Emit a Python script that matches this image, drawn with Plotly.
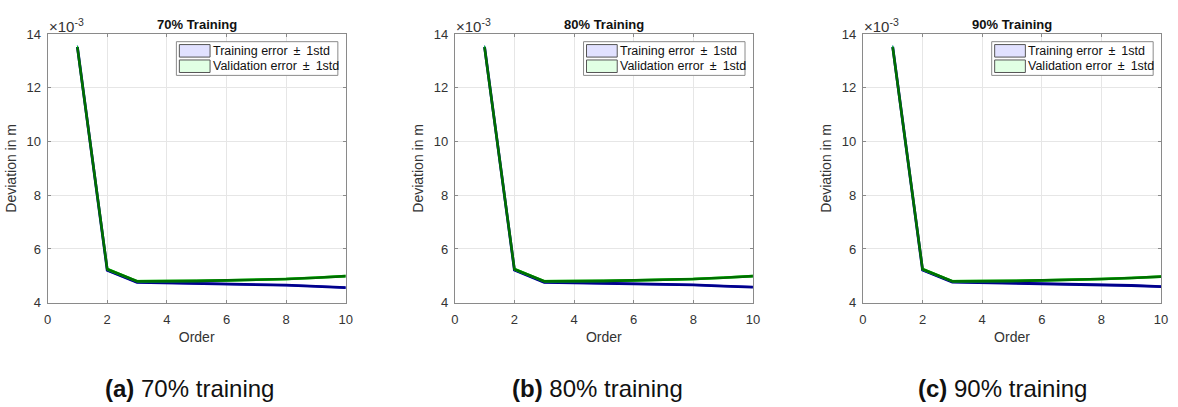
import plotly.graph_objects as go

# Polynomial order on the x axis
orders = [1, 2, 3, 4, 5, 6, 7, 8, 9, 10]

# Deviation values in units of 1e-3 m (axis carries the x10^-3 multiplier)
train_70 = [13.52, 5.21, 4.76, 4.74, 4.72, 4.70, 4.68, 4.65, 4.61, 4.56]
val_70 = [13.50, 5.25, 4.80, 4.80, 4.81, 4.83, 4.85, 4.88, 4.93, 4.99]
train_80 = [13.52, 5.22, 4.76, 4.74, 4.73, 4.71, 4.69, 4.66, 4.62, 4.58]
val_80 = [13.50, 5.25, 4.80, 4.80, 4.81, 4.83, 4.85, 4.88, 4.93, 4.99]
train_90 = [13.52, 5.22, 4.77, 4.75, 4.74, 4.72, 4.70, 4.67, 4.64, 4.60]
val_90 = [13.50, 5.25, 4.80, 4.80, 4.81, 4.83, 4.85, 4.88, 4.92, 4.97]

# One standard deviation of the error (same units)
train_std_70 = [0.05, 0.03, 0.02, 0.02, 0.02, 0.02, 0.02, 0.02, 0.02, 0.02]
val_std_70 = [0.06, 0.04, 0.03, 0.03, 0.03, 0.03, 0.03, 0.03, 0.03, 0.03]
train_std_80 = [0.05, 0.03, 0.02, 0.02, 0.02, 0.02, 0.02, 0.02, 0.02, 0.02]
val_std_80 = [0.06, 0.04, 0.03, 0.03, 0.03, 0.03, 0.03, 0.03, 0.03, 0.03]
train_std_90 = [0.05, 0.03, 0.02, 0.02, 0.02, 0.02, 0.02, 0.02, 0.02, 0.02]
val_std_90 = [0.06, 0.04, 0.03, 0.03, 0.03, 0.03, 0.03, 0.03, 0.03, 0.03]

panel_titles = ["70% Training", "80% Training", "90% Training"]
captions = [("(a)", "70% training"), ("(b)", "80% training"), ("(c)", "90% training")]
legend_labels = ["Training error \u2009\u00b1\u2009 1std", "Validation error \u2009\u00b1\u2009 1std"]
x_title = "Order"
y_title = "Deviation in m"

panels = [
    (train_70, train_std_70, val_70, val_std_70),
    (train_80, train_std_80, val_80, val_std_80),
    (train_90, train_std_90, val_90, val_std_90),
]

W, H = 1178, 407
FONT = "Liberation Sans, Arial, Helvetica, sans-serif"
AX_COL = "#8a8a8a"
TXT_COL = "#333333"


def xp(px):
    return px / W


def yp(py):
    return 1 - py / H


# axis boxes in pixels: (left, right), shared top/bottom
ax_x = [(44, 345), (455, 756), (867, 1168)]
ax_top, ax_bot = 28, 307

styles = [
    # (edge colour, fill colour, mean colour, mean width)
    ("rgb(40,40,255)", "rgba(215,215,255,0.8)", "rgb(0,0,140)", 2.8),
    ("rgb(0,235,0)", "rgba(220,255,220,0.8)", "rgb(0,110,0)", 2.6),
]

fig = go.Figure()
shapes = []
annotations = []

for i, (tr, trs, va, vas) in enumerate(panels):
    xa = "x" if i == 0 else f"x{i + 1}"
    ya = "y" if i == 0 else f"y{i + 1}"
    for (mean, std), (edge, fill, mcol, mw) in zip([(tr, trs), (va, vas)], styles):
        lower = [m - s for m, s in zip(mean, std)]
        upper = [m + s for m, s in zip(mean, std)]
        fig.add_trace(go.Scatter(x=orders, y=lower, mode="lines", xaxis=xa, yaxis=ya,
                                 line=dict(color=edge, width=1), showlegend=False,
                                 hoverinfo="skip"))
        fig.add_trace(go.Scatter(x=orders, y=upper, mode="lines", xaxis=xa, yaxis=ya,
                                 line=dict(color=edge, width=1), fill="tonexty",
                                 fillcolor=fill, showlegend=False, hoverinfo="skip"))
        fig.add_trace(go.Scatter(x=orders, y=mean, mode="lines", xaxis=xa, yaxis=ya,
                                 line=dict(color=mcol, width=mw), showlegend=False))

    l, r = ax_x[i]
    ax_common = dict(
        showline=True, linecolor=AX_COL, linewidth=1, mirror="ticks",
        ticks="inside", ticklen=3, tickcolor=AX_COL,
        showgrid=True, gridcolor="#e6e6e6", gridwidth=1, zeroline=False,
        tickfont=dict(family=FONT, size=13, color=TXT_COL),
    )
    fig.layout[f"xaxis{'' if i == 0 else i + 1}"] = dict(
        ax_common, domain=[xp(l), xp(r)], anchor=ya, range=[0, 10], dtick=2,
        ticklabelstandoff=5,
        title=dict(text=x_title, font=dict(family=FONT, size=14, color=TXT_COL), standoff=5),
    )
    fig.layout[f"yaxis{'' if i == 0 else i + 1}"] = dict(
        ax_common, domain=[yp(ax_bot), yp(ax_top)], anchor=xa, range=[4, 14], dtick=2,
        ticklabelstandoff=3,
        title=dict(text=y_title, font=dict(family=FONT, size=14, color=TXT_COL), standoff=6),
    )

    cx = (l + r) / 2
    annotations.append(dict(x=xp(cx), y=yp(18), xref="paper", yref="paper",
                            text=f"<b>{panel_titles[i]}</b>", showarrow=False,
                            font=dict(family=FONT, size=13, color="#111"),
                            xanchor="center", yanchor="middle"))
    annotations.append(dict(x=xp(l - 1), y=yp(19), xref="paper", yref="paper",
                            text="\u00d710<sup>-3</sup>", showarrow=False,
                            font=dict(family=FONT, size=15, color=TXT_COL),
                            xanchor="left", yanchor="middle"))

    # legend box inside the upper right corner of each axis
    bl, br, bt, bb = r - 171, r - 8, ax_top + 8, ax_top + 43
    shapes.append(dict(type="rect", xref="paper", yref="paper",
                       x0=xp(bl), x1=xp(br), y0=yp(bb), y1=yp(bt),
                       line=dict(color="#8a8a8a", width=1), fillcolor="white"))
    for k, (label, (edge, fill, mcol, mw)) in enumerate(zip(legend_labels, styles)):
        st = bt + 3 + k * 16
        sw_fill = ["rgb(225,225,255)", "rgb(225,255,228)"][k]
        shapes.append(dict(type="rect", xref="paper", yref="paper",
                           x0=xp(bl + 3), x1=xp(bl + 34), y0=yp(st + 13), y1=yp(st),
                           line=dict(color="#555", width=1), fillcolor=sw_fill))
        annotations.append(dict(x=xp(bl + 35), y=yp(st + 6.5), xref="paper", yref="paper",
                                text=label, showarrow=False,
                                font=dict(family=FONT, size=12.5, color="#111"),
                                xanchor="left", yanchor="middle"))

    cap_x = [187, 599, 1008][i]
    tag, rest = captions[i]
    annotations.append(dict(x=xp(cap_x), y=yp(396), xref="paper", yref="paper",
                            text=f"<b>{tag}</b> {rest}", showarrow=False,
                            font=dict(family=FONT, size=24, color="#111"),
                            xanchor="center", yanchor="middle"))

fig.update_layout(
    width=W, height=H,
    margin=dict(l=0, r=0, t=0, b=0),
    paper_bgcolor="white", plot_bgcolor="white",
    showlegend=False,
    shapes=shapes, annotations=annotations,
)

fig.write_html("out.html")
